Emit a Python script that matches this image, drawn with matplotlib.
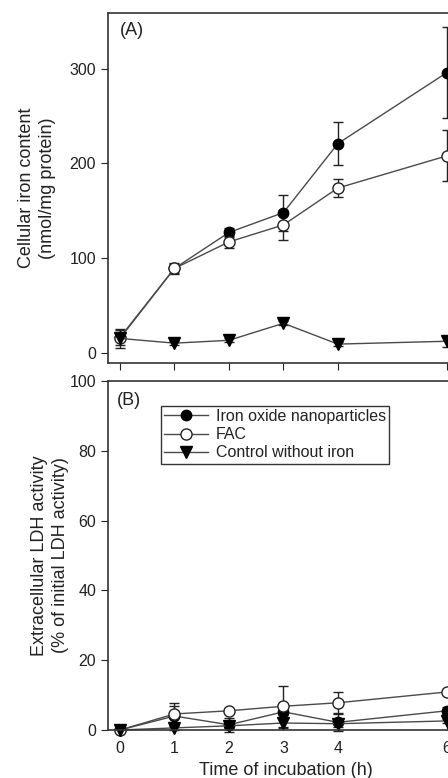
import matplotlib
matplotlib.use('Agg')
import matplotlib.pyplot as plt

plt.rcParams['font.family'] = ['Liberation Sans', 'DejaVu Sans']
plt.rcParams['text.color'] = '#222222'
plt.rcParams['axes.labelcolor'] = '#222222'
plt.rcParams['xtick.color'] = '#222222'
plt.rcParams['ytick.color'] = '#222222'

# time points (h)
time = [0, 1, 2, 3, 4, 6]

# (A) cellular iron content, nmol/mg protein
iron_np_a = [16, 89, 127, 148, 221, 296]
iron_np_a_err = [8, 5, 5, 19, 23, 48]
fac_a = [15, 89, 117, 135, 174, 208]
fac_a_err = [10, 6, 6, 16, 9, 27]
ctrl_a = [15, 10, 13, 31, 9, 12]
ctrl_a_err = [3, 2, 2, 2, 2, 6]

# (B) extracellular LDH activity, % of initial
iron_np_b = [0, 4.0, 1.5, 5.2, 2.2, 5.5]
iron_np_b_err = [0, 3.0, 2.0, 1.0, 2.5, 1.0]
fac_b = [0, 4.6, 5.5, 6.8, 7.8, 10.9]
fac_b_err = [0, 3.2, 0.5, 5.8, 3.0, 0.5]
ctrl_b = [0, 0.6, 1.2, 2.0, 1.8, 2.6]
ctrl_b_err = [0, 0.5, 0.5, 1.5, 1.0, 0.5]

labels = ['Iron oxide nanoparticles', 'FAC', 'Control without iron']

fig = plt.figure(figsize=(4.48, 7.78), dpi=100)
axA = fig.add_axes([0.241, 0.5334, 0.793, 0.4499])
axB = fig.add_axes([0.241, 0.0617, 0.793, 0.4486])

line_c = '#4a4a4a'
styles = [dict(marker='o', mfc='black', mec='black', ms=7.5),
          dict(marker='o', mfc='white', mec='#222222', ms=8, mew=1),
          dict(marker='v', mfc='black', mec='black', ms=8)]


def draw(ax, series):
    handles = []
    for (y, e), st, lab in zip(series, styles, labels):
        h = ax.errorbar(time, y, yerr=e, color=line_c, lw=1, ecolor='#222222',
                        elinewidth=1, capsize=3.6, capthick=1, clip_on=False,
                        label=lab, **st)
        for art in h.lines[1] + h.lines[2]:
            art.set_clip_on(False)
        handles.append(h.lines[0])
    for sp in ax.spines.values():
        sp.set_color('#333333')
        sp.set_linewidth(1.2)
    ax.set_xlim(-0.22, 6.3)
    ax.set_xticks(time)
    return handles


draw(axA, [(iron_np_a, iron_np_a_err), (fac_a, fac_a_err), (ctrl_a, ctrl_a_err)])
axA.set_ylim(-11, 359)
axA.set_yticks([0, 100, 200, 300])
axA.tick_params(axis='both', direction='out', length=5, labelsize=11.5)
axA.tick_params(axis='x', labelbottom=False)
axA.set_ylabel('Cellular iron content\n(nmol/mg protein)', fontsize=13, linespacing=1.3)
axA.yaxis.set_label_coords(-0.147, 0.5)
axA.text(0.034, 0.975, '(A)', transform=axA.transAxes, fontsize=13, va='top', ha='left')

hs = draw(axB, [(iron_np_b, iron_np_b_err), (fac_b, fac_b_err), (ctrl_b, ctrl_b_err)])
axB.set_ylim(0, 100)
axB.set_yticks([0, 20, 40, 60, 80, 100])
axB.tick_params(axis='y', direction='out', length=5, labelsize=11.5)
axB.tick_params(axis='x', direction='in', length=4, pad=8, labelsize=11.5)
axB.set_ylabel('Extracellular LDH activity\n(% of initial LDH activity)', fontsize=13, linespacing=1.3)
axB.yaxis.set_label_coords(-0.11, 0.5)
axB.set_xlabel('Time of incubation (h)', fontsize=13, labelpad=4)
axB.text(0.025, 0.968, '(B)', transform=axB.transAxes, fontsize=13, va='top', ha='left')

leg = axB.legend(handles=hs, labels=labels, loc='upper left', bbox_to_anchor=(0.148, 0.929),
                 borderaxespad=0, fontsize=11.5, frameon=True, fancybox=False,
                 edgecolor='black', handlelength=2.75, handletextpad=0.5,
                 borderpad=0.2, labelspacing=0.2)
leg.get_frame().set_linewidth(1.0)

fig.savefig('out.png', dpi=100)
